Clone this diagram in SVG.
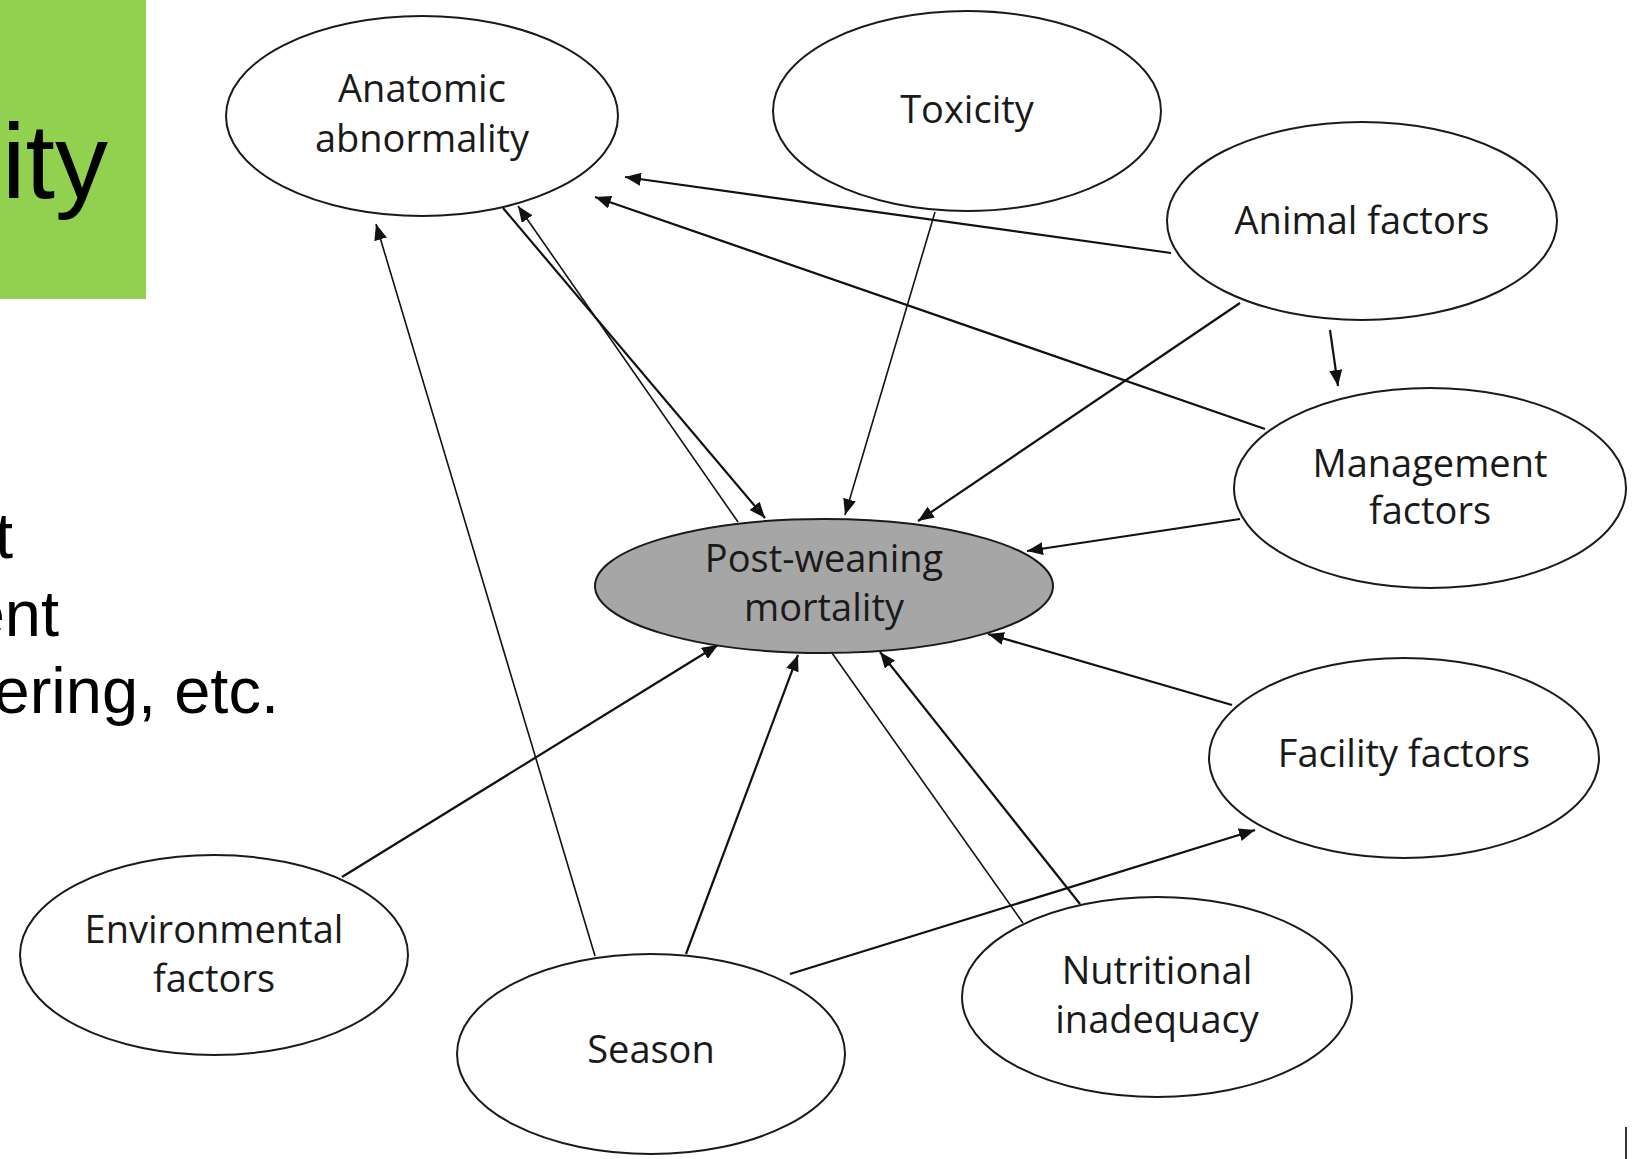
<svg xmlns="http://www.w3.org/2000/svg" width="1637" height="1159" viewBox="0 0 1637 1159">
<style>
.node{fill:#ffffff;stroke:#1a1a1a;stroke-width:2}
.main{fill:#a6a6a6;stroke:#1a1a1a;stroke-width:2}
.lbl{font-family:"Open Sans","Noto Sans",sans-serif;font-size:38px;fill:#1a1a1a;text-anchor:middle}
.edge{stroke:#111;stroke-width:2.2;fill:none}
.thin{stroke:#111;stroke-width:1.6;fill:none}
.slide{font-family:"Liberation Sans",Arial,sans-serif;fill:#000}
</style>
<defs>
<marker id="arr" markerUnits="userSpaceOnUse" markerWidth="17" markerHeight="13" refX="16" refY="6.5" orient="auto">
<path d="M0,0 L16,6.5 L0,13 z" fill="#111"/>
</marker>
</defs>
<rect width="1637" height="1159" fill="#ffffff"/>
<g id="slide-fragments">
<rect x="0" y="0" width="146" height="299" fill="#92d050"/>
<text class="slide" x="2" y="198" font-size="106">ity</text>
<text class="slide" x="13" y="558" font-size="65" text-anchor="end">t</text>
<text class="slide" x="59" y="636" font-size="65" text-anchor="end">ent</text>
<text class="slide" x="279" y="713" font-size="65" text-anchor="end">ering, etc.</text>
<line x1="1626" y1="1127" x2="1626" y2="1159" stroke="#333" stroke-width="2"/>
</g>
<g id="connectors">
<line class="edge" x1="1171" y1="253" x2="625" y2="177" marker-end="url(#arr)"/>
<line class="edge" x1="1265" y1="429" x2="595" y2="197" marker-end="url(#arr)"/>
<line class="edge" x1="1240" y1="303" x2="918" y2="521" marker-end="url(#arr)"/>
<line class="edge" x1="1330" y1="330" x2="1338" y2="386" marker-end="url(#arr)"/>
<line class="thin" x1="935" y1="212" x2="845" y2="515" marker-end="url(#arr)"/>
<line class="edge" x1="1240" y1="519" x2="1027" y2="551" marker-end="url(#arr)"/>
<line class="edge" x1="1232" y1="705" x2="988" y2="634" marker-end="url(#arr)"/>
<line class="edge" x1="342" y1="877" x2="718" y2="645" marker-end="url(#arr)"/>
<line class="edge" x1="686" y1="954" x2="798" y2="655" marker-end="url(#arr)"/>
<line class="thin" x1="595" y1="956" x2="376" y2="224" marker-end="url(#arr)"/>
<line class="edge" x1="790" y1="974" x2="1255" y2="830" marker-end="url(#arr)"/>
<line class="edge" x1="503" y1="208" x2="765" y2="518" marker-end="url(#arr)"/>
<line class="thin" x1="738" y1="522" x2="518" y2="206" marker-end="url(#arr)"/>
<line class="thin" x1="832" y1="653" x2="1023" y2="923"/>
<line class="edge" x1="1080" y1="904" x2="880" y2="652" marker-end="url(#arr)"/>
</g>
<g id="node-anatomic">
<ellipse class="node" cx="422" cy="116" rx="196" ry="100"/>
<text class="lbl" x="422" y="102">Anatomic</text>
<text class="lbl" x="422" y="152">abnormality</text>
</g>
<g id="node-toxicity">
<ellipse class="node" cx="967" cy="111" rx="194" ry="100"/>
<text class="lbl" x="967" y="123">Toxicity</text>
</g>
<g id="node-animal">
<ellipse class="node" cx="1362" cy="221" rx="195" ry="99"/>
<text class="lbl" x="1362" y="234">Animal factors</text>
</g>
<g id="node-management">
<ellipse class="node" cx="1430" cy="488" rx="196" ry="100"/>
<text class="lbl" x="1430" y="477">Management</text>
<text class="lbl" x="1430" y="524">factors</text>
</g>
<g id="node-mortality">
<ellipse class="main" cx="824" cy="586" rx="229" ry="67"/>
<text class="lbl" x="824" y="572">Post-weaning</text>
<text class="lbl" x="824" y="621">mortality</text>
</g>
<g id="node-facility">
<ellipse class="node" cx="1404" cy="758" rx="195" ry="100"/>
<text class="lbl" x="1404" y="767">Facility factors</text>
</g>
<g id="node-environmental">
<ellipse class="node" cx="214" cy="955" rx="194" ry="100"/>
<text class="lbl" x="214" y="943">Environmental</text>
<text class="lbl" x="214" y="992">factors</text>
</g>
<g id="node-season">
<ellipse class="node" cx="651" cy="1054" rx="194" ry="100"/>
<text class="lbl" x="651" y="1063">Season</text>
</g>
<g id="node-nutritional">
<ellipse class="node" cx="1157" cy="997" rx="195" ry="100"/>
<text class="lbl" x="1157" y="984">Nutritional</text>
<text class="lbl" x="1157" y="1033">inadequacy</text>
</g>
</svg>
